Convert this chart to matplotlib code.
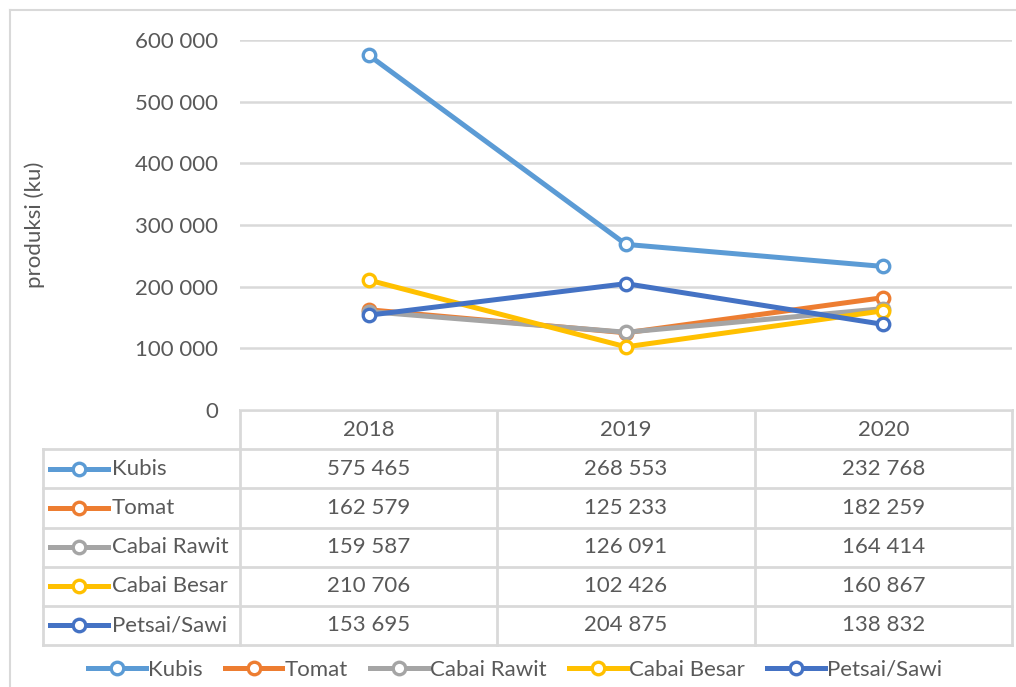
import matplotlib
matplotlib.use('Agg')
import matplotlib.pyplot as plt

plt.rcParams['font.family'] = ['Lato', 'DejaVu Sans']

# Данные
years = ['2018', '2019', '2020']
names = ['Kubis', 'Tomat', 'Cabai Rawit', 'Cabai Besar', 'Petsai/Sawi']
kubis = [575465, 268553, 232768]
tomat = [162579, 125233, 182259]
cabai_rawit = [159587, 126091, 164414]
cabai_besar = [210706, 102426, 160867]
petsai = [153695, 204875, 138832]
series = [kubis, tomat, cabai_rawit, cabai_besar, petsai]
colors = ['#5B9BD5', '#ED7D31', '#A5A5A5', '#FFC000', '#4472C4']
yticks = [0, 100000, 200000, 300000, 400000, 500000, 600000]

W, H = 1016, 687
TXT = '#595959'
GRID = '#D9D9D9'
FS = 16
LW = 3.6


def fmt(v):
    return f'{v:,}'.replace(',', ' ')


fig = plt.figure(figsize=(W / 100, H / 100), dpi=100)

# ===== Область графика =====
left, right, top, bottom = 240, 1012, 40, 410
ax = fig.add_axes([left / W, 1 - bottom / H, (right - left) / W, (bottom - top) / H])
ax.set_xlim(-0.5, len(years) - 0.5)
ax.set_ylim(0, 600000)
ax.set_yticks(yticks)
ax.set_yticklabels([fmt(v) for v in yticks], fontsize=FS, color=TXT)
ax.tick_params(axis='y', length=0, pad=16)
ax.set_xticks([])
for s in ax.spines.values():
    s.set_visible(False)
ax.grid(axis='y', color=GRID, linewidth=1.8)
ax.set_axisbelow(True)

handles = []
for name, vals, c in zip(names, series, colors):
    ln, = ax.plot(range(len(years)), vals, color=c, linewidth=LW, marker='o',
                  markersize=9, markerfacecolor='white', markeredgecolor=c,
                  markeredgewidth=2.4, label=name, clip_on=False, zorder=3)
    handles.append(ln)

fig.text(35 / W, 1 - 225 / H, 'produksi (ku)', rotation=90, ha='center',
         va='center', fontsize=FS, color=TXT)

# ===== Таблица данных =====
tax = fig.add_axes([0, 0, 1, 1], zorder=-1)
tax.set_xlim(0, W)
tax.set_ylim(H, 0)
tax.axis('off')

col_w = (right - left) / len(years)
tab_left = 43
row_h = (645 - bottom) / (len(names) + 1)
rows_y = [bottom + i * row_h for i in range(len(names) + 2)]

kw = dict(color=GRID, linewidth=2, solid_capstyle='projecting')
tax.plot([left, right], [rows_y[0]] * 2, **kw)
for y in rows_y[1:]:
    tax.plot([tab_left, right], [y, y], **kw)
tax.plot([tab_left, tab_left], [rows_y[1], rows_y[-1]], **kw)
for i in range(len(years) + 1):
    x = left + i * col_w
    tax.plot([x, x], [rows_y[0], rows_y[-1]], **kw)

for j, yr in enumerate(years):
    tax.text(left + (j + 0.5) * col_w, (rows_y[0] + rows_y[1]) / 2, yr,
             ha='center', va='center', fontsize=FS, color=TXT)

for i, (name, vals, c) in enumerate(zip(names, series, colors)):
    yc = (rows_y[i + 1] + rows_y[i + 2]) / 2
    tax.plot([50, 79, 108], [yc] * 3, color=c, linewidth=LW, marker='o',
             markevery=[1], markersize=9, markerfacecolor='white',
             markeredgecolor=c, markeredgewidth=2.4)
    tax.text(112, yc, name, ha='left', va='center', fontsize=FS, color=TXT)
    for j, v in enumerate(vals):
        tax.text(left + (j + 0.5) * col_w, yc, fmt(v), ha='center',
                 va='center', fontsize=FS, color=TXT)

# Рамка диаграммы
tax.plot([10, 10], [10, H + 5], color=GRID, linewidth=1.5)
tax.plot([10, W + 5], [10, 10], color=GRID, linewidth=1.5)

# ===== Легенда =====
fig.legend(handles=handles, loc='center', bbox_to_anchor=(515 / W, 1 - 670 / H),
           ncol=5, frameon=False, fontsize=FS, handlelength=2.6,
           handletextpad=0.1, columnspacing=1.0, labelcolor=TXT)

fig.savefig('out.png', dpi=100)
plt.close(fig)
